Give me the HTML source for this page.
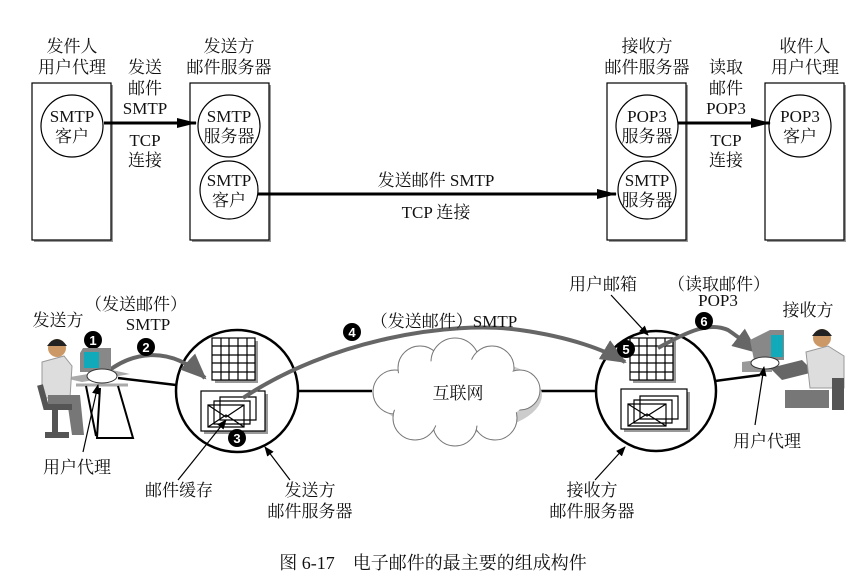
<!DOCTYPE html>
<html><head><meta charset="utf-8"><style>
html,body{margin:0;padding:0;background:#fff;}
svg{display:block;}
text{font-family:"Liberation Serif","Noto Serif CJK SC",serif;font-size:17px;fill:#111;text-anchor:middle;}
</style></head><body>
<svg width="863" height="584" viewBox="0 0 863 584" xmlns="http://www.w3.org/2000/svg">
<defs>
<marker id="ah" markerWidth="10" markerHeight="8" refX="9" refY="4" orient="auto" markerUnits="userSpaceOnUse"><path d="M0,0 L10,4 L0,8 z" fill="#000"/></marker>
<marker id="ah2" markerWidth="20" markerHeight="10" refX="19" refY="5" orient="auto" markerUnits="userSpaceOnUse"><path d="M0,0 L20,5 L0,10 z" fill="#000"/></marker>
<marker id="ga" markerWidth="26" markerHeight="22" refX="24" refY="11" orient="auto" markerUnits="userSpaceOnUse"><path d="M0,0 L26,11 L0,22 z" fill="#666"/></marker>
</defs>
<g stroke="#000" stroke-width="1.2" fill="#fff">
<rect x="34" y="85" width="79" height="157" fill="#999" stroke="none"/>
<rect x="32" y="83" width="79" height="157"/>
<rect x="192" y="85" width="79" height="157" fill="#999" stroke="none"/>
<rect x="190" y="83" width="79" height="157"/>
<rect x="609" y="85" width="79" height="157" fill="#999" stroke="none"/>
<rect x="607" y="83" width="79" height="157"/>
<rect x="767" y="85" width="79" height="157" fill="#999" stroke="none"/>
<rect x="765" y="83" width="79" height="157"/>
<circle cx="72" cy="126" r="31"/>
<circle cx="229" cy="126" r="31"/>
<circle cx="229" cy="190" r="29"/>
<circle cx="647" cy="126" r="31"/>
<circle cx="647" cy="190" r="29"/>
<circle cx="800" cy="126" r="31"/>
</g>
<g stroke="#000" stroke-width="3">
<line x1="104" y1="123" x2="196" y2="123" marker-end="url(#ah2)"/>
<line x1="258" y1="194" x2="616" y2="194" marker-end="url(#ah2)"/>
<line x1="678" y1="123" x2="770" y2="123" marker-end="url(#ah2)"/>
</g>
<text x="72" y="52">发件人</text><text x="72" y="73">用户代理</text>
<text x="229" y="52">发送方</text><text x="229" y="73">邮件服务器</text>
<text x="647" y="52">接收方</text><text x="647" y="73">邮件服务器</text>
<text x="805" y="52">收件人</text><text x="805" y="73">用户代理</text>
<text x="145" y="73">发送</text><text x="145" y="94">邮件</text><text x="145" y="114">SMTP</text><text x="145" y="146">TCP</text><text x="145" y="166">连接</text>
<text x="726" y="73">读取</text><text x="726" y="94">邮件</text><text x="726" y="114">POP3</text><text x="726" y="146">TCP</text><text x="726" y="166">连接</text>
<text x="72" y="122">SMTP</text><text x="72" y="142">客户</text>
<text x="229" y="122">SMTP</text><text x="229" y="142">服务器</text>
<text x="229" y="186">SMTP</text><text x="229" y="206">客户</text>
<text x="647" y="122">POP3</text><text x="647" y="142">服务器</text>
<text x="647" y="186">SMTP</text><text x="647" y="206">服务器</text>
<text x="800" y="122">POP3</text><text x="800" y="142">客户</text>
<text x="436" y="186">发送邮件 SMTP</text>
<text x="436" y="218">TCP 连接</text>

<g stroke="#000" stroke-width="2.5">
<line x1="118" y1="378" x2="176" y2="385"/>
<line x1="298" y1="391" x2="372" y2="391"/>
<line x1="540" y1="391" x2="597" y2="391"/>
<line x1="715" y1="381" x2="760" y2="375"/>
</g>
<g fill="#fff" stroke="#777" stroke-width="1">
<ellipse cx="460" cy="395" rx="82" ry="38" fill="#ccc" stroke="none"/>
<circle cx="395" cy="392" r="22"/><circle cx="420" cy="368" r="22"/><circle cx="455" cy="362" r="24"/><circle cx="492" cy="368" r="22"/><circle cx="520" cy="390" r="20"/><circle cx="495" cy="418" r="22"/><circle cx="455" cy="424" r="22"/><circle cx="415" cy="418" r="22"/>
<ellipse cx="457" cy="393" rx="72" ry="34" stroke="none"/>
</g>
<text x="458" y="399">互联网</text>
<g stroke="#000" stroke-width="2.5" fill="#fff">
<circle cx="237" cy="391" r="61"/>
<circle cx="656" cy="391" r="60"/>
</g>
<g stroke="#000" stroke-width="1.2" fill="#fff">
<rect x="204" y="394" width="64" height="40" fill="#999" stroke="none"/>
<rect x="201" y="391" width="64" height="40"/>
<rect x="624" y="392" width="66" height="40" fill="#999" stroke="none"/>
<rect x="621" y="389" width="66" height="40"/>
<rect x="215" y="341" width="43" height="42" fill="#999" stroke="none"/>
<rect x="212" y="338" width="43" height="42"/>
<rect x="633" y="341" width="43" height="42" fill="#999" stroke="none"/>
<rect x="630" y="338" width="43" height="42"/>
<path d="M220,397 h36 v23 h-36 z M214,401 h36 v23 h-36 z M208,405 h36 v22 h-36 z M208,405 l18,12 l18,-12 M208,427 l18,-12 l18,12"/>
<path d="M640,396 h38 v23 h-38 z M634,400 h38 v23 h-38 z M628,404 h38 v22 h-38 z M628,404 l19,12 l19,-12 M628,426 l19,-12 l19,12"/>
<path d="M221,338 v42 M229,338 v42 M238,338 v42 M247,338 v42 M212,346 h43 M212,355 h43 M212,363 h43 M212,372 h43"/>
<path d="M639,338 v42 M647,338 v42 M656,338 v42 M665,338 v42 M630,346 h43 M630,355 h43 M630,363 h43 M630,372 h43"/>
</g>
<g stroke="#666" stroke-width="4" fill="none">
<path d="M100,378 C130,350 170,345 205,378" marker-end="url(#ga)"/>
<path d="M243,398 C330,340 450,320 520,330 C570,337 605,350 625,362" marker-end="url(#ga)"/>
<path d="M658,348 C690,330 710,322 728,330 C740,338 748,345 757,352" marker-end="url(#ga)"/>
</g>
<g fill="#000">
<circle cx="93" cy="340" r="9"/><circle cx="146" cy="347" r="9"/><circle cx="237" cy="438" r="9"/><circle cx="352" cy="332" r="9"/><circle cx="626" cy="349" r="9"/><circle cx="704" cy="321" r="9"/>
</g>
<g>
<text x="93" y="345" style="fill:#fff;font-family:'Liberation Sans',sans-serif;font-weight:bold;font-size:13px">1</text>
<text x="146" y="352" style="fill:#fff;font-family:'Liberation Sans',sans-serif;font-weight:bold;font-size:13px">2</text>
<text x="237" y="443" style="fill:#fff;font-family:'Liberation Sans',sans-serif;font-weight:bold;font-size:13px">3</text>
<text x="352" y="337" style="fill:#fff;font-family:'Liberation Sans',sans-serif;font-weight:bold;font-size:13px">4</text>
<text x="626" y="354" style="fill:#fff;font-family:'Liberation Sans',sans-serif;font-weight:bold;font-size:13px">5</text>
<text x="704" y="326" style="fill:#fff;font-family:'Liberation Sans',sans-serif;font-weight:bold;font-size:13px">6</text>
</g>
<!-- sender -->
<g>
<path d="M80,353 l3,-5 h28 v24 h-31 z" fill="#888"/>
<rect x="84" y="352" width="15" height="16" fill="#1ab"/>
<path d="M64,378 l48,-8 l18,4 l-48,8 z" fill="#aaa"/>
<ellipse cx="102" cy="376" rx="15" ry="7" fill="#fff" stroke="#333"/>
<path d="M76,385 h52" stroke="#aaa" stroke-width="3"/>
<path d="M86,386 l10,50 M100,388 l-3,50 h36 l-15,-52" stroke="#000" stroke-width="2" fill="none"/>
<circle cx="57" cy="348" r="9" fill="#c96"/><path d="M47,346 q10,-14 20,0" fill="#222"/>
<path d="M42,362 l22,-6 l8,10 l-2,32 h-28 z" fill="#ddd" stroke="#999"/>
<path d="M48,395 h32 l4,40 h-12 l-4,-28 h-20 z" fill="#777"/>
<path d="M40,385 l6,22 h26 M55,407 v26 M45,435 h24" stroke="#555" stroke-width="6" fill="none"/>
</g>
<!-- receiver -->
<g>
<path d="M750,340 l20,-10 h14 v30 h-30 z" fill="#888"/>
<rect x="771" y="335" width="12" height="22" fill="#1ab"/>
<path d="M742,362 l30,-4 v14 h-30 z" fill="#999"/>
<path d="M770,368 l32,-8 l12,12 l-32,8 z" fill="#666"/>
<ellipse cx="765" cy="363" rx="14" ry="6" fill="#fff" stroke="#333"/>
<circle cx="822" cy="338" r="9" fill="#c96"/><path d="M812,336 q10,-14 20,0" fill="#222"/>
<path d="M806,352 l22,-6 l16,10 v32 h-34 z" fill="#ddd" stroke="#999"/>
<path d="M785,390 h44 v18 h-44 z" fill="#777"/>
<path d="M832,378 h12 v32 h-12 z" fill="#555"/>
</g>
<g stroke="#000" stroke-width="1.2">
<line x1="83" y1="452" x2="98" y2="385" marker-end="url(#ah)"/>
<line x1="178" y1="480" x2="226" y2="420" marker-end="url(#ah)"/>
<line x1="290" y1="480" x2="265" y2="447" marker-end="url(#ah)"/>
<line x1="595" y1="480" x2="625" y2="447" marker-end="url(#ah)"/>
<line x1="611" y1="295" x2="648" y2="335" marker-end="url(#ah)"/>
<line x1="755" y1="425" x2="764" y2="367" marker-end="url(#ah)"/>
</g>
<text x="58" y="326">发送方</text>
<text x="136" y="310">（发送邮件）</text>
<text x="148" y="330">SMTP</text>
<text x="444" y="327">（发送邮件）SMTP</text>
<text x="603" y="290">用户邮箱</text>
<text x="719" y="290">（读取邮件）</text>
<text x="718" y="306">POP3</text>
<text x="808" y="316">接收方</text>
<text x="77" y="473">用户代理</text>
<text x="179" y="496">邮件缓存</text>
<text x="310" y="496">发送方</text>
<text x="310" y="517">邮件服务器</text>
<text x="592" y="496">接收方</text>
<text x="592" y="517">邮件服务器</text>
<text x="767" y="447">用户代理</text>
<text x="433" y="569" style="font-size:18px">图 6-17　电子邮件的最主要的组成构件</text>
</svg>
</body></html>
